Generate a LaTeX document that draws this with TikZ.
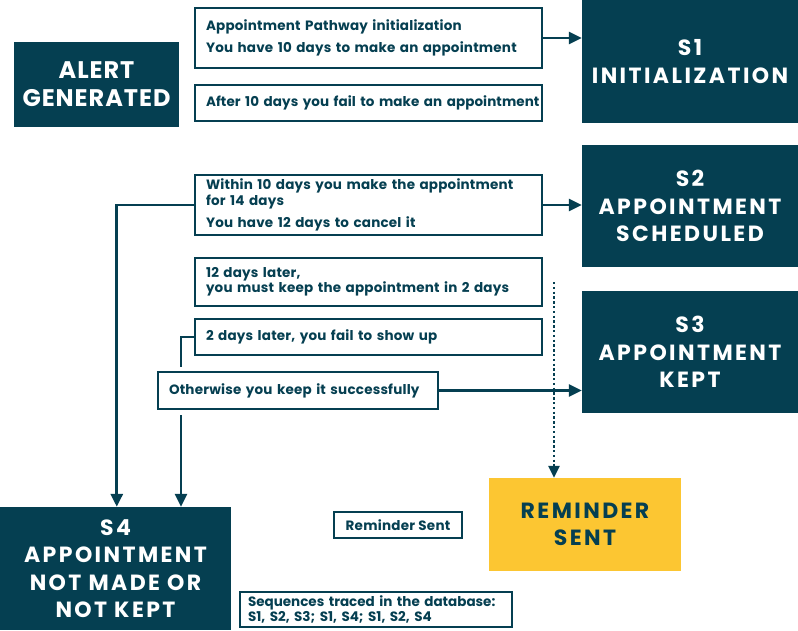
\documentclass[tikz,border=0pt]{standalone}
\usepackage{fontspec}
\setmainfont{Poppins}
\usetikzlibrary{arrows.meta,calc}
\definecolor{dk}{HTML}{053F51}
\definecolor{yl}{HTML}{FCC632}
\tikzset{
  tb/.style={draw=dk, line width=1.8pt, fill=white, text=dk, font=\bfseries\fontsize{13.5}{15.5}\selectfont\addfontfeature{LetterSpace=1.5}, align=left, inner xsep=11pt, inner ysep=0pt},
  big/.style={fill=dk, text=white, font=\bfseries\fontsize{22}{27.5}\selectfont\addfontfeature{LetterSpace=11}, align=center, inner sep=0pt},
  conn/.style={draw=dk, line width=2.8pt},
  arr/.style={conn, -{Triangle[length=13pt,width=12pt]}},
  dotarr/.style={draw=dk, line width=2.4pt, dash pattern=on 2.4pt off 2.4pt, -{Triangle[length=12pt,width=11pt]}}
}
\begin{document}
\begin{tikzpicture}[x=1pt,y=-1pt]
\useasboundingbox (0,0) rectangle (798,630);
\node[big, font=\bfseries\fontsize{24}{28}\selectfont\addfontfeature{LetterSpace=4}, minimum width=165pt, minimum height=85pt] (alert) at (96.5,84.5) {ALERT\\GENERATED};
\node[tb, minimum width=347pt, minimum height=60pt, text width=325pt] (b1) at (368.5,38) {Appointment Pathway initialization\\[7pt]You have 10 days to make an appointment};
\node[tb, font=\bfseries\fontsize{13.5}{15.5}\selectfont\addfontfeature{LetterSpace=0.6}, minimum width=347pt, minimum height=36pt, text width=325pt] (b2) at (368.5,103) {\makebox[325pt][l]{After 10 days you fail to make an appointment}};
\node[big, minimum width=216pt, minimum height=123pt] (s1) at (690,61.5) {S1\\INITIALIZATION};
\node[tb, minimum width=347pt, minimum height=60pt, text width=325pt] (b3) at (368.5,205) {Within 10 days you make the appointment\\for 14 days\\[7pt]You have 12 days to cancel it};
\node[big, minimum width=216pt, minimum height=122pt] (s2) at (690,206) {S2\\APPOINTMENT\\SCHEDULED};
\node[tb, minimum width=347pt, minimum height=48pt, text width=325pt] (b4) at (368.5,282) {12 days later,\\you must keep the appointment in 2 days};
\node[tb, minimum width=347pt, minimum height=36pt, text width=325pt] (b5) at (368.5,337) {2 days later, you fail to show up};
\node[big, minimum width=216pt, minimum height=122pt] (s3) at (690,352) {S3\\APPOINTMENT\\KEPT};
\node[tb, minimum width=280pt, minimum height=37pt, text width=258pt] (b6) at (298,390.5) {Otherwise you keep it successfully};
\node[big, fill=yl, text=dk, minimum width=192pt, minimum height=93pt] (rem) at (585,524.5) {REMINDER\\SENT};
\node[tb, font=\bfseries\fontsize{13.5}{15}\selectfont\addfontfeature{LetterSpace=2}, minimum width=128pt, minimum height=26pt, align=center, inner xsep=0pt] (rs) at (398,525) {Reminder Sent};
\node[big, minimum width=231pt, minimum height=123pt] (s4) at (115.5,568.5) {S4\\APPOINTMENT\\NOT MADE OR\\NOT KEPT};
\node[tb, font=\bfseries\fontsize{13.5}{15}\selectfont, minimum width=272pt, minimum height=35pt, text width=256pt, inner xsep=8pt] (seq) at (376,609.5) {Sequences traced in the database:\\S1, S2, S3; S1, S4; S1, S2, S4};
% connectors
\draw[arr] (b1.east) -- (b1.east -| s1.west);
\draw[arr] (b3.east) -- (b3.east -| s2.west);
\draw[arr] (b6.east) -- (b6.east -| s3.west);
\draw[arr] (b3.west) -| ([xshift=117pt]s4.north west);
\coordinate (g1) at (181,367);
\coordinate (g2) at (181,415);
\draw[conn] (b5.west) -| (g1);
\draw[arr] (g2) -- (g2 |- s4.north);
\coordinate (d0) at (554,282);
\draw[dotarr] (d0) -- (d0 |- rem.north);
\end{tikzpicture}
\end{document}
